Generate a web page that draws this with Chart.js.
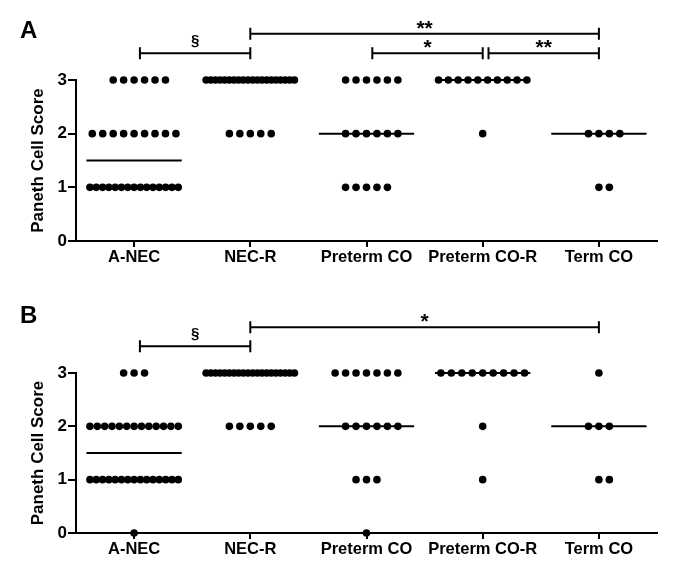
<!DOCTYPE html>
<html>
<head>
<meta charset="utf-8">
<script src="https://cdn.jsdelivr.net/npm/chart.js@4/dist/chart.umd.min.js"></script>
<style>
  body { margin: 0; background: #fff; }
  canvas { display: block; }
</style>
</head>
<body>
<canvas id="chartA" width="675" height="290"></canvas>
<canvas id="chartB" width="675" height="291"></canvas>
<script>
const categories = ['A-NEC', 'NEC-R', 'Preterm CO', 'Preterm CO-R', 'Term CO'];
const yTicks = [0, 1, 2, 3];

// how many samples got score 0, 1, 2, 3 in each group
const countsA = [[0, 15, 9, 6], [0, 0, 5, 20], [0, 5, 6, 6], [0, 0, 1, 10], [0, 2, 4, 0]];
const countsB = [[1, 15, 13, 3], [0, 0, 5, 20], [1, 3, 6, 7], [0, 1, 1, 9], [0, 2, 3, 1]];
const mediansA = [1.5, 3, 2, 3, 2];
const mediansB = [1.5, 3, 2, 3, 2];

// significance: [from group, to group, label]
const statsA = [[0, 1, '§'], [1, 4, '**'], [2, 3, '*'], [3, 4, '**']];
const statsB = [[0, 1, '§'], [1, 4, '*']];

const FONT = "'Liberation Sans', Arial, sans-serif";

// spread the dots of one score side by side, like a column scatter plot
function dotPoints(counts) {
  const pts = [];
  counts.forEach((row, g) => {
    row.forEach((n, score) => {
      const step = n > 1 ? Math.min(0.09, 0.76 / (n - 1)) : 0;
      const first = step === 0.09 ? -Math.floor((n - 1) / 2) : -(n - 1) / 2;
      for (let k = 0; k < n; k++) pts.push({ x: g + (first + k) * step, y: score });
    });
  });
  return pts;
}

function medianLines(medians) {
  return medians.map((m, g) => ({
    type: 'line',
    data: [{ x: g - 0.41, y: m }, { x: g + 0.41, y: m }],
    borderColor: '#000',
    borderWidth: 2,
    pointRadius: 0,
    clip: false
  }));
}

const bracketPlugin = {
  id: 'brackets',
  afterDraw(chart, args, opts) {
    const { ctx } = chart;
    const xs = chart.scales.x, ys = chart.scales.y;
    ctx.save();
    ctx.strokeStyle = '#000';
    ctx.fillStyle = '#000';
    ctx.lineWidth = 2;
    opts.stats.forEach(([a, b, label]) => {
      const wide = b - a > 1;
      const x1 = xs.getPixelForValue(wide ? a : a + 0.05);
      const x2 = xs.getPixelForValue(b);
      const y = ys.getPixelForValue(wide ? 3.86 : 3.5);
      ctx.beginPath();
      ctx.moveTo(x1, y); ctx.lineTo(x2, y);
      ctx.moveTo(x1, y - 6); ctx.lineTo(x1, y + 6);
      ctx.moveTo(x2, y - 6); ctx.lineTo(x2, y + 6);
      ctx.stroke();
      ctx.font = label === '§' ? 'bold 15px ' + FONT : 'bold 21px ' + FONT;
      ctx.textAlign = 'center';
      ctx.textBaseline = 'alphabetic';
      const m = ctx.measureText(label);
      ctx.fillText(label, (x1 + x2) / 2, y - 5 - m.actualBoundingBoxDescent);
    });
    ctx.font = 'bold 24px ' + FONT;
    ctx.textAlign = 'left';
    ctx.fillText(opts.letter, 20, opts.letterY);
    ctx.restore();
  }
};

function makeChart(id, counts, medians, stats, letter, letterY, top, xHeight) {
  new Chart(document.getElementById(id), {
    type: 'scatter',
    data: {
      datasets: [{
        data: dotPoints(counts),
        backgroundColor: '#000',
        borderWidth: 0,
        pointRadius: 3.8,
        clip: false
      }].concat(medianLines(medians))
    },
    options: {
      responsive: false,
      animation: false,
      layout: { padding: { top: top, right: 18, bottom: 0, left: 0 } },
      plugins: {
        legend: { display: false },
        tooltip: { enabled: false },
        brackets: { stats: stats, letter: letter, letterY: letterY }
      },
      scales: {
        x: {
          type: 'linear',
          min: -0.5,
          max: 4.5,
          afterFit(s) { s.height = xHeight; },
          afterBuildTicks(s) { s.ticks = categories.map((c, i) => ({ value: i })); },
          grid: { drawOnChartArea: false, tickLength: 6, lineWidth: 2, color: '#000' },
          border: { display: true, width: 2, color: '#000' },
          ticks: {
            autoSkip: false,
            maxRotation: 0,
            padding: 1,
            color: '#000',
            font: { family: FONT, size: 16.5, weight: 'bold' },
            callback: (v) => categories[v]
          }
        },
        y: {
          min: 0,
          max: 3,
          afterFit(s) { s.width = 76; },
          afterBuildTicks(s) { s.ticks = yTicks.map((v) => ({ value: v })); },
          grid: { drawOnChartArea: false, tickLength: 8, lineWidth: 2, color: '#000' },
          border: { display: true, width: 2, color: '#000' },
          ticks: {
            padding: 1,
            color: '#000',
            font: { family: FONT, size: 17, weight: 'bold' }
          },
          title: {
            display: true,
            text: 'Paneth Cell Score',
            color: '#000',
            font: { family: FONT, size: 17, weight: 'bold' },
            padding: { top: 28, bottom: 0 }
          }
        }
      }
    },
    plugins: [bracketPlugin]
  });
}

makeChart('chartA', countsA, mediansA, statsA, 'A', 38, 80, 49);
makeChart('chartB', countsB, mediansB, statsB, 'B', 33, 83, 48);
</script>
</body>
</html>
